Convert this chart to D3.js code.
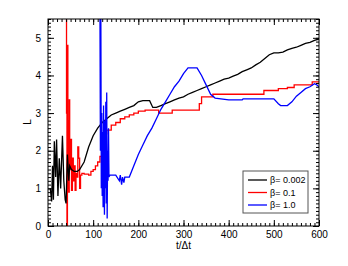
<!DOCTYPE html>
<html>
<head>
<meta charset="utf-8">
<script src="https://cdn.jsdelivr.net/npm/d3@7"></script>
<style>
  body { margin: 0; background: #fff; }
  svg { font-family: "Liberation Sans", Arial, sans-serif; }
  .axis path { display: none; }
  .axis line { stroke: #000; }
  .axis text { font-size: 10px; fill: #000; }
</style>
</head>
<body>
<svg id="chart" width="348" height="266"></svg>
<script>
// black: beta = 0.002
var tBlack = [5, 8, 10, 12, 14, 17, 19, 22, 25, 28, 32, 35, 38, 40, 43, 46, 48, 52, 58, 65, 70, 80, 90, 100, 110, 120, 130, 140, 150, 160, 170, 180, 190, 200, 210, 225, 232, 240, 250, 260, 270, 280, 290, 300, 310, 320, 330, 340, 350, 360, 370, 380, 390, 400, 410, 420, 430, 440, 450, 460, 470, 480, 490, 500, 510, 520, 530, 540, 550, 560, 570, 580, 590, 600];
var LBlack = [1.0, 0.65, 1.6, 0.7, 2.25, 1.3, 2.3, 0.8, 1.8, 1.0, 2.4, 1.2, 0.7, 0.6, 1.9, 1.2, 1.6, 1.5, 1.45, 1.45, 1.5, 1.7, 2.1, 2.4, 2.6, 2.75, 2.85, 2.95, 3.0, 3.05, 3.1, 3.15, 3.2, 3.3, 3.33, 3.33, 3.15, 3.15, 3.2, 3.25, 3.3, 3.35, 3.4, 3.43, 3.5, 3.55, 3.6, 3.65, 3.7, 3.75, 3.8, 3.85, 3.9, 3.93, 3.98, 4.03, 4.1, 4.15, 4.2, 4.28, 4.35, 4.45, 4.55, 4.6, 4.6, 4.62, 4.68, 4.72, 4.75, 4.8, 4.85, 4.88, 4.93, 4.97];

// red: beta = 0.1
var tRed = [40, 41, 42, 43, 44, 45, 46, 47, 48, 50, 52, 54, 56, 58, 60, 62, 64, 66, 68, 70, 72, 75, 80, 90, 95, 100, 105, 110, 115, 120, 122, 125, 130, 140, 150, 160, 170, 180, 190, 200, 215, 230, 245, 265, 275, 330, 335, 340, 365, 475, 478, 510, 530, 545, 585, 600];
var LRed = [5.9, 3.0, 0.0, 4.8, 1.0, 2.8, 0.9, 3.35, 1.5, 2.3, 0.95, 1.8, 1.2, 1.6, 0.95, 1.4, 1.3, 2.1, 1.8, 1.0, 1.35, 1.4, 1.38, 1.35, 1.45, 1.5, 1.6, 1.7, 1.85, 1.95, 2.4, 2.45, 2.55, 2.68, 2.75, 2.85, 2.9, 2.95, 3.0, 3.05, 3.08, 3.08, 3.0, 3.0, 3.08, 3.08, 3.25, 3.43, 3.5, 3.5, 3.6, 3.65, 3.68, 3.75, 3.83, 3.83];

// blue: beta = 1.0
var tBlue = [115, 116, 117, 118, 119, 120, 121, 122, 123, 124, 125, 126, 127, 128, 129, 130, 131, 132, 133, 134, 135, 137, 150, 158, 160, 163, 165, 168, 170, 180, 190, 200, 210, 220, 230, 240, 250, 260, 270, 280, 290, 300, 310, 320, 330, 340, 350, 360, 370, 400, 430, 432, 500, 510, 515, 530, 540, 550, 560, 570, 580, 590, 595, 600];
var LBlue = [5.9, 2.0, 5.6, 1.0, 3.0, 0.8, 2.5, 0.5, 3.2, 1.5, 0.3, 2.8, 1.0, 3.3, 0.6, 3.55, 0.2, 2.0, 1.2, 2.6, 1.3, 1.35, 1.35, 1.2, 1.35, 1.1, 1.3, 1.15, 1.3, 1.3, 1.6, 1.9, 2.15, 2.4, 2.6, 2.85, 3.1, 3.3, 3.5, 3.7, 3.85, 4.05, 4.2, 4.2, 4.2, 4.0, 3.75, 3.5, 3.4, 3.35, 3.35, 3.38, 3.38, 3.25, 3.2, 3.2, 3.3, 3.45, 3.55, 3.65, 3.7, 3.78, 3.75, 3.7];

var seriesNames = ["\u03b2= 0.002", "\u03b2= 0.1", "\u03b2= 1.0"];
var seriesColors = ["#000000", "#ff0000", "#0000ff"];
var xTicks = [0, 100, 200, 300, 400, 500, 600];
var yTicks = [0, 1, 2, 3, 4, 5];

var svg = d3.select("#chart"),
    margin = {top: 19, right: 29, bottom: 40, left: 48},
    width = +svg.attr("width") - margin.left - margin.right,
    height = +svg.attr("height") - margin.top - margin.bottom;

var g = svg.append("g")
    .attr("transform", "translate(" + margin.left + "," + margin.top + ")");

var x = d3.scaleLinear().domain([0, 600]).range([0, width]);
var y = d3.scaleLinear().domain([0, 5.5]).range([height, 0]);

svg.append("defs").append("clipPath").attr("id", "clip")
  .append("rect").attr("width", width).attr("height", height);

// red is stepped, the others drawn straight
var series = [
  {t: tBlack, L: LBlack, curve: d3.curveLinear},
  {t: tRed, L: LRed, curve: d3.curveStepAfter},
  {t: tBlue, L: LBlue, curve: d3.curveLinear}
];

// red first, then black, blue on top
[1, 0, 2].forEach(function(i) {
  var s = series[i];
  var pts = s.t.map(function(t, j) { return [t, s.L[j]]; });
  var line = d3.line()
      .x(function(d) { return x(d[0]); })
      .y(function(d) { return y(d[1]); })
      .curve(s.curve);
  g.append("path")
    .datum(pts)
    .attr("clip-path", "url(#clip)")
    .attr("fill", "none")
    .attr("stroke", seriesColors[i])
    .attr("stroke-width", 1.3)
    .attr("d", line);
});

// axes: ticks point inward, mirrored top/right
var xMinor = d3.range(0, 601, 10), yMinor = d3.range(0, 5.51, 0.1);

g.append("g").attr("class", "axis")
  .attr("transform", "translate(0," + height + ")")
  .call(d3.axisBottom(x).tickValues(xTicks).tickSize(-6).tickPadding(5).tickFormat(d3.format("d")));
g.append("g").attr("class", "axis")
  .attr("transform", "translate(0," + height + ")")
  .call(d3.axisBottom(x).tickValues(xMinor).tickSize(-3).tickFormat(""));
g.append("g").attr("class", "axis")
  .call(d3.axisTop(x).tickValues(xTicks).tickSize(-6).tickFormat(""));
g.append("g").attr("class", "axis")
  .call(d3.axisTop(x).tickValues(xMinor).tickSize(-3).tickFormat(""));

g.append("g").attr("class", "axis")
  .call(d3.axisLeft(y).tickValues(yTicks).tickSize(-6).tickPadding(7).tickFormat(d3.format("d")));
g.append("g").attr("class", "axis")
  .call(d3.axisLeft(y).tickValues(yMinor).tickSize(-3).tickFormat(""));
g.append("g").attr("class", "axis")
  .attr("transform", "translate(" + width + ",0)")
  .call(d3.axisRight(y).tickValues(yTicks).tickSize(-6).tickFormat(""));
g.append("g").attr("class", "axis")
  .attr("transform", "translate(" + width + ",0)")
  .call(d3.axisRight(y).tickValues(yMinor).tickSize(-3).tickFormat(""));

g.append("rect")
  .attr("width", width).attr("height", height)
  .attr("fill", "none").attr("stroke", "#000").attr("stroke-width", 1);

// axis labels
svg.append("text")
  .attr("x", margin.left + width / 2).attr("y", 249)
  .attr("text-anchor", "middle").attr("font-size", 10)
  .text("t/\u0394t");
svg.append("text")
  .attr("transform", "translate(31,122) rotate(-90)")
  .attr("text-anchor", "middle").attr("font-size", 10)
  .text("L");

// legend
var lg = svg.append("g").attr("transform", "translate(243,171)");
lg.append("rect").attr("width", 65).attr("height", 42)
  .attr("fill", "#fff").attr("stroke", "#555").attr("stroke-width", 1);
seriesNames.forEach(function(name, i) {
  var yy = 9 + i * 12.5;
  lg.append("line").attr("x1", 5).attr("x2", 24).attr("y1", yy).attr("y2", yy)
    .attr("stroke", seriesColors[i]).attr("stroke-width", 1.3);
  lg.append("text").attr("x", 27).attr("y", yy + 3.2)
    .attr("font-size", 9).text(name);
});
</script>
</body>
</html>
